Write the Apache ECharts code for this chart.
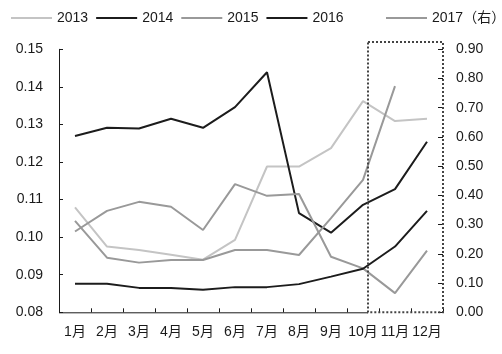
<!DOCTYPE html>
<html>
<head>
<meta charset="utf-8">
<script src="https://cdn.jsdelivr.net/npm/echarts@6/dist/echarts.min.js"></script>
<style>
html,body{margin:0;padding:0;background:#fff;}
#main{width:502px;height:354px;}
</style>
</head>
<body>
<div id="main"></div>
<script>
var months = ['1月','2月','3月','4月','5月','6月','7月','8月','9月','10月','11月','12月'];
var s2013 = [0.1079,0.0975,0.0966,0.0953,0.0940,0.0993,0.1188,0.1188,0.1237,0.1362,0.1309,0.1315];
var s2014 = [0.1269,0.1291,0.1289,0.1315,0.1291,0.1346,0.1439,0.1064,0.1012,0.1086,0.1128,0.1254];
var s2015 = [0.1015,0.1070,0.1094,0.1081,0.1019,0.1141,0.1110,0.1115,0.0948,0.0917,0.0851,0.0964];
var s2016 = [0.0876,0.0876,0.0865,0.0865,0.0860,0.0867,0.0867,0.0875,0.0895,0.0916,0.0975,0.1070];
var s2017 = [0.313,0.187,0.170,0.179,0.179,0.213,0.213,0.196,0.322,0.453,0.774,null];
var leftTicks = {min:0.08, max:0.15, interval:0.01};
var rightTicks = {min:0, max:0.9, interval:0.1};

var G = {left:59, top:49.3, right:59, bottom:41.7};
var W = 502, H = 354;
var gx1 = G.left, gx2 = W - G.right, gy1 = G.top, gy2 = H - G.bottom;
var boxLeft = 368, boxTop = 42;

var FONT = '"Liberation Sans", Arial, "Noto Sans CJK SC", sans-serif';
var TXT = '#1a1a1a';
var cLight = '#c4c4c4', cBlack = '#1c1c1c', cGray = '#999999';

var chart = echarts.init(document.getElementById('main'), null, {renderer:'canvas'});
function mk(name, data, color, yi){
  return {name:name, type:'line', data:data, yAxisIndex:yi, symbol:'none', smooth:false,
    lineStyle:{color:color, width:2}, itemStyle:{color:color}, connectNulls:false};
}
chart.setOption({
  animation:false,
  backgroundColor:'#fff',
  textStyle:{fontFamily:FONT},
  legend:[{
    data:['2013','2014','2015','2016'], left:6, top:6, icon:'rect', itemWidth:41, itemHeight:2, itemGap:8,
    textStyle:{color:TXT, fontSize:14, fontFamily:FONT}
  },{
    data:['2017（右）'], left:381, top:6, icon:'rect', itemWidth:41, itemHeight:2,
    textStyle:{color:TXT, fontSize:14, fontFamily:FONT}
  }],
  grid:{left:G.left, right:G.right, top:G.top, bottom:G.bottom, containLabel:false},
  xAxis:{type:'category', data:months, boundaryGap:true,
    axisLine:{show:false},
    axisTick:{show:true, inside:true, length:4, lineStyle:{color:TXT}},
    axisLabel:{color:TXT, fontSize:14, margin:13, interval:0, fontFamily:FONT}},
  yAxis:[{type:'value', min:leftTicks.min, max:leftTicks.max, interval:leftTicks.interval,
    splitLine:{show:false},
    axisLine:{show:true, lineStyle:{color:TXT, width:1}},
    axisTick:{show:true, inside:true, length:4, lineStyle:{color:TXT}},
    axisLabel:{color:TXT, fontSize:14, margin:16, formatter:function(v){return v.toFixed(2);}}},
   {type:'value', position:'right', min:rightTicks.min, max:rightTicks.max, interval:rightTicks.interval,
    splitLine:{show:false},
    axisLine:{show:false},
    axisTick:{show:true, inside:true, length:5, lineStyle:{color:TXT}},
    axisLabel:{color:TXT, fontSize:14, margin:13, formatter:function(v){return v.toFixed(2);}}}],
  series:[
    mk('2013', s2013, cLight, 0),
    mk('2014', s2014, cBlack, 0),
    mk('2015', s2015, cGray, 0),
    mk('2016', s2016, cBlack, 0),
    mk('2017（右）', s2017, cGray, 1)
  ],
  graphic:[
    {type:'line', shape:{x1:gx1, y1:gy2+0.5, x2:boxLeft, y2:gy2+0.5}, style:{stroke:TXT, lineWidth:1}, z:10},
    {type:'rect', shape:{x:boxLeft, y:boxTop, width:gx2-boxLeft, height:gy2-boxTop},
      style:{fill:'none', stroke:'#444', lineWidth:2, lineDash:[2,2]}, z:10}
  ]
});
</script>
</body>
</html>
